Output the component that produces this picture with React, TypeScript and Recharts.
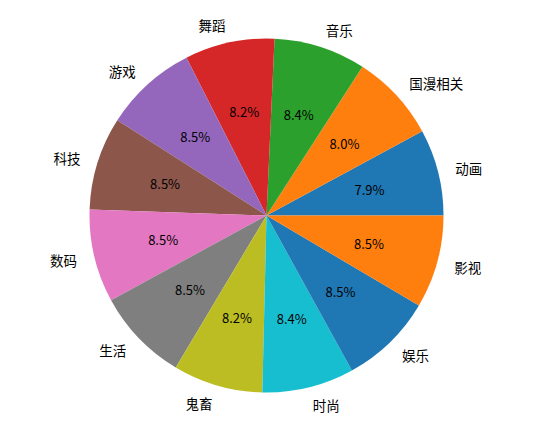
import React from "react";
import { PieChart, Pie, Cell } from "recharts";

const categories = ["动画", "国漫相关", "音乐", "舞蹈", "游戏", "科技", "数码", "生活", "鬼畜", "时尚", "娱乐", "影视"];
const shares = [7.9, 8.0, 8.4, 8.2, 8.5, 8.5, 8.5, 8.5, 8.2, 8.4, 8.5, 8.5];
const palette = [
  "#1f77b4", "#ff7f0e", "#2ca02c", "#d62728", "#9467bd", "#8c564b",
  "#e377c2", "#7f7f7f", "#bcbd22", "#17becf", "#1f77b4", "#ff7f0e",
];

const data = categories.map((name, i) => ({ name, value: shares[i] }));

const RAD = Math.PI / 180;
const FONT = "'Noto Sans CJK SC', 'DejaVu Sans', sans-serif";

// matplotlib-style labels: names at 1.1r, percentages at 0.6r
function renderLabel(props: any) {
  const { cx, cy, midAngle, outerRadius, index } = props;
  const cos = Math.cos(-midAngle * RAD);
  const sin = Math.sin(-midAngle * RAD);
  const lx = cx + outerRadius * 1.1 * cos;
  const ly = cy + outerRadius * 1.1 * sin;
  const px = cx + outerRadius * 0.6 * cos;
  const py = cy + outerRadius * 0.6 * sin;
  return (
    <g>
      <text
        x={lx}
        y={ly}
        textAnchor={cos >= 0 ? "start" : "end"}
        dominantBaseline="central"
        fontSize={13.5}
        fontFamily={FONT}
        fill="#000"
      >
        {categories[index]}
      </text>
      <text
        x={px}
        y={py}
        textAnchor="middle"
        dominantBaseline="central"
        fontSize={13}
        fontFamily={FONT}
        fill="#000"
      >
        {shares[index].toFixed(1) + "%"}
      </text>
    </g>
  );
}

export default function App() {
  return (
    <div style={{ position: "absolute", left: 0, top: 0, width: 533, height: 434, background: "#fff" }}>
      <PieChart width={533} height={434} margin={{ top: 0, right: 0, bottom: 0, left: 0 }}>
        <Pie
          data={data}
          dataKey="value"
          nameKey="name"
          cx={266.5}
          cy={215.5}
          outerRadius={177}
          startAngle={0}
          endAngle={360}
          stroke="none"
          labelLine={false}
          label={renderLabel}
          isAnimationActive={false}
        >
          {data.map((d, i) => (
            <Cell key={d.name} fill={palette[i]} />
          ))}
        </Pie>
      </PieChart>
    </div>
  );
}
